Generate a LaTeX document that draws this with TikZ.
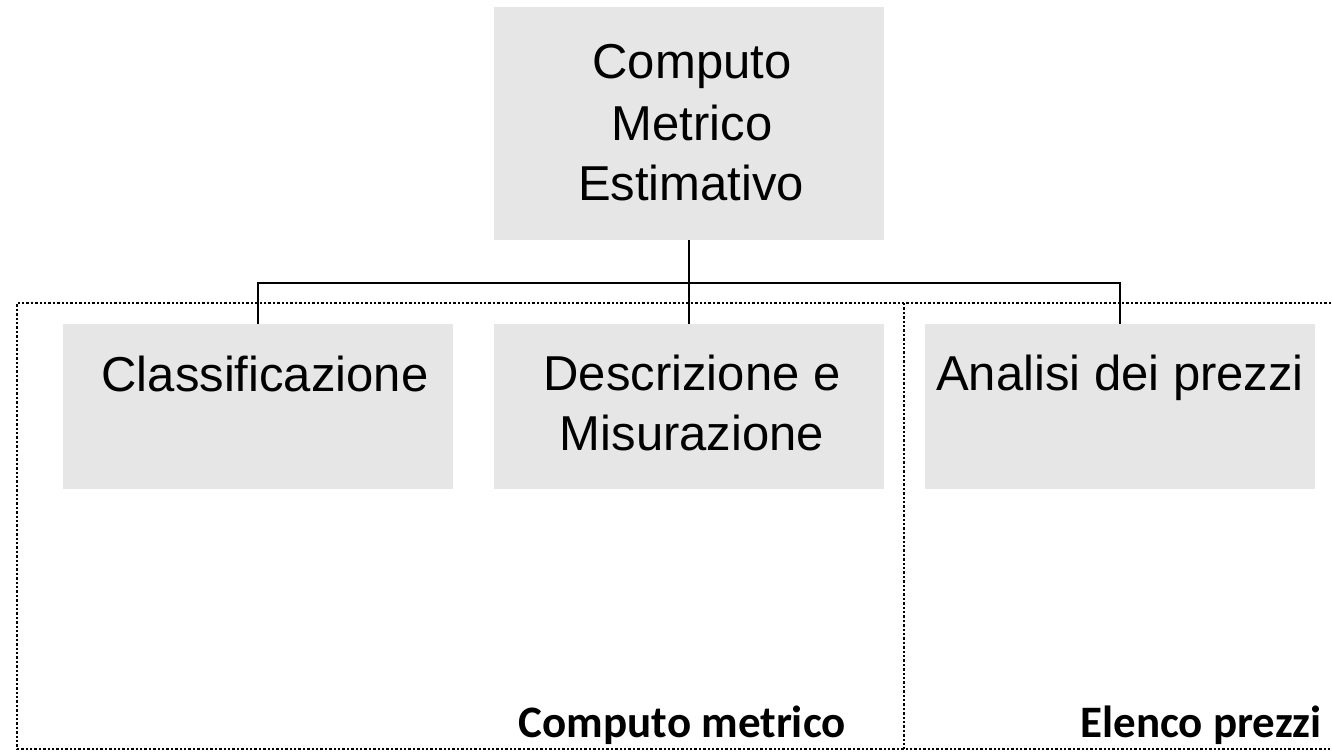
\documentclass[tikz,border=0pt]{standalone}
\usepackage{fontspec}
\newfontfamily\boxfont{Liberation Sans}
\newfontfamily\capfont{Carlito}
\definecolor{boxgray}{HTML}{E6E6E6}
\begin{document}
\begin{tikzpicture}[x=1pt,y=-1pt,
  box/.style={fill=boxgray, draw=none, minimum width=390pt, minimum height=165pt, inner sep=0pt},
  topbox/.style={fill=boxgray, draw=none, minimum width=390pt, minimum height=233pt, inner sep=0pt},
  boxtext/.style={font=\boxfont\fontsize{49}{58}\selectfont, inner sep=0pt},
  captext/.style={font=\capfont\bfseries\fontsize{45}{54}\selectfont, inner sep=0pt},
  conn/.style={line width=2.6pt},
  dots/.style={line width=2.4pt, dash pattern=on 2.4pt off 2pt}]
\useasboundingbox (0,0) rectangle (1332,752);
% boxes
\node[topbox] (top) at (689,123.5) {};
\node[box] (b1) at (258,406.5) {};
\node[box] (b2) at (689,406.5) {};
\node[box] (b3) at (1120,406.5) {};
% texts
\node[boxtext, anchor=base] (t1) at (692,78) {Computo};
\node[boxtext, anchor=base] (t2) at (692,140) {Metrico};
\node[boxtext, anchor=base] (t3) at (691,200) {Estimativo};
\node[boxtext, anchor=base] (c1) at (265,391) {Classificazione};
\node[boxtext, anchor=base] (c2a) at (692,390) {Descrizione e};
\node[boxtext, anchor=base] (c2b) at (692,450) {Misurazione};
\node[boxtext, anchor=base] (c3) at (1120,390) {Analisi dei prezzi};
% connectors
\coordinate (bar) at (689,283);
\draw[conn] (top.south) -- (b2.north);
\draw[conn] (bar) -| (b1.north);
\draw[conn] (bar) -| (b3.north);
% dotted frames
\coordinate (fr1) at (1340,303);
\coordinate (fr2) at (17,303);
\coordinate (fr3) at (17,749);
\coordinate (fr4) at (1340,749);
\coordinate (dv1) at (904,303);
\coordinate (dv2) at (904,749);
\draw[dots] (fr1) -- (fr2) -- (fr3) -- (fr4);
\draw[dots] (dv1) -- (dv2);
% captions
\node[captext, anchor=base east] (k1) at (846,737) {Computo metrico};
\node[captext, anchor=base east] (k2) at (1322,737) {Elenco prezzi};
\end{tikzpicture}
\end{document}
